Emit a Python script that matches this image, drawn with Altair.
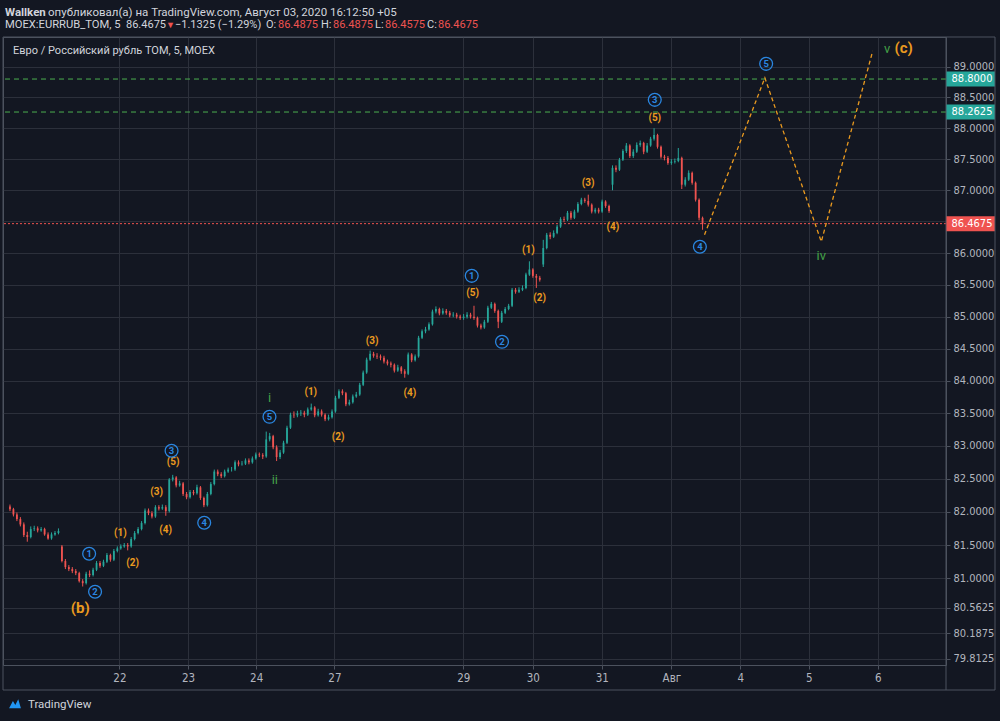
import altair as alt
import pandas as pd
import jinja2

# ---------------- data ----------------
closes = [
    82.04, 81.96, 81.89, 81.81, 81.65, 81.62, 81.74, 81.75, 81.72, 81.74,
    81.66, 81.60, 81.66, 81.68, 81.71, 81.26, 81.17, 81.14, 81.11, 81.08,
    80.96, 80.93, 81.07, 81.05, 81.13, 81.23, 81.19, 81.25, 81.35, 81.28,
    81.41, 81.45, 81.48, 81.50, 81.48, 81.59, 81.68, 81.74, 81.83, 82.02,
    81.98, 81.93, 82.07, 82.05, 82.07, 82.01, 82.49, 82.52, 82.40, 82.43,
    82.27, 82.22, 82.30, 82.28, 82.37, 82.21, 82.10, 82.27, 82.42, 82.61,
    82.57, 82.54, 82.61, 82.64, 82.64, 82.75, 82.72, 82.73, 82.78, 82.75,
    82.81, 82.87, 82.86, 82.84, 83.10, 83.15, 82.98, 82.83, 82.90, 83.05,
    83.28, 83.48, 83.47, 83.50, 83.51, 83.48, 83.56, 83.59, 83.47, 83.53,
    83.48, 83.41, 83.44, 83.53, 83.74, 83.84, 83.81, 83.64, 83.67, 83.76,
    83.79, 83.94, 84.13, 84.33, 84.42, 84.39, 84.38, 84.36, 84.30, 84.27,
    84.25, 84.16, 84.21, 84.15, 84.11, 84.41, 84.32, 84.38, 84.67, 84.77,
    84.80, 84.88, 85.08, 85.12, 85.05, 85.09, 85.06, 85.02, 85.03, 85.00,
    84.98, 85.00, 85.03, 85.00, 84.98, 84.86, 84.83, 84.92, 85.14, 85.20,
    85.09, 84.92, 85.06, 85.12, 85.17, 85.42, 85.39, 85.42, 85.45, 85.66,
    85.74, 85.64, 85.61, 85.58, 86.08, 86.29, 86.26, 86.32, 86.42, 86.54,
    86.53, 86.64, 86.56, 86.66, 86.78, 86.85, 86.83, 86.77, 86.66, 86.69,
    86.66, 86.82, 86.75, 86.67, 87.36, 87.33, 87.49, 87.63, 87.72, 87.55,
    87.62, 87.73, 87.76, 87.62, 87.72, 87.83, 87.89, 87.70, 87.54, 87.52,
    87.44, 87.46, 87.47, 87.52, 87.09, 87.17, 87.28, 87.12, 86.85, 86.56,
    86.4675,
]
highs = [
    82.11, 82.06, 81.99, 81.92, 81.84, 81.70, 81.78, 81.79, 81.78, 81.77,
    81.76, 81.69, 81.69, 81.71, 81.75, 81.50, 81.29, 81.20, 81.17, 81.14,
    81.10, 80.99, 81.10, 81.12, 81.16, 81.26, 81.26, 81.28, 81.38, 81.37,
    81.44, 81.48, 81.51, 81.53, 81.53, 81.62, 81.71, 81.77, 81.86, 82.05,
    82.05, 82.01, 82.10, 82.10, 82.11, 82.10, 82.51, 82.56, 82.54, 82.47,
    82.45, 82.30, 82.33, 82.33, 82.41, 82.39, 82.23, 82.30, 82.45, 82.64,
    82.64, 82.60, 82.64, 82.67, 82.68, 82.78, 82.78, 82.77, 82.81, 82.81,
    82.84, 82.90, 82.90, 82.89, 83.22, 83.20, 83.17, 83.01, 82.94, 83.08,
    83.31, 83.51, 83.53, 83.54, 83.55, 83.54, 83.59, 83.65, 83.61, 83.57,
    83.56, 83.50, 83.48, 83.56, 83.77, 83.87, 83.87, 83.83, 83.71, 83.79,
    83.83, 83.97, 84.16, 84.36, 84.47, 84.45, 84.43, 84.41, 84.39, 84.33,
    84.30, 84.27, 84.25, 84.23, 84.18, 84.44, 84.43, 84.41, 84.70, 84.80,
    84.84, 84.91, 85.11, 85.16, 85.14, 85.13, 85.12, 85.09, 85.07, 85.06,
    85.03, 85.04, 85.07, 85.06, 85.17, 85.00, 84.89, 84.95, 85.17, 85.23,
    85.22, 85.11, 85.09, 85.15, 85.20, 85.45, 85.45, 85.46, 85.49, 85.69,
    85.87, 85.76, 85.67, 85.64, 86.21, 86.32, 86.33, 86.36, 86.45, 86.57,
    86.58, 86.67, 86.67, 86.69, 86.81, 86.88, 86.88, 86.93, 86.79, 86.72,
    86.72, 86.85, 86.84, 86.77, 87.40, 87.40, 87.52, 87.66, 87.76, 87.74,
    87.66, 87.77, 87.80, 87.78, 87.76, 87.86, 88.00, 87.91, 87.72, 87.57,
    87.55, 87.50, 87.51, 87.68, 87.54, 87.21, 87.32, 87.30, 87.14, 86.87,
    86.58,
]
lows = [
    82.01, 81.93, 81.86, 81.78, 81.62, 81.55, 81.60, 81.71, 81.69, 81.70,
    81.64, 81.58, 81.58, 81.64, 81.66, 81.24, 81.14, 81.11, 81.08, 81.05,
    80.94, 80.88, 80.91, 81.02, 81.03, 81.11, 81.16, 81.17, 81.23, 81.25,
    81.26, 81.39, 81.43, 81.46, 81.42, 81.46, 81.57, 81.66, 81.72, 81.81,
    81.95, 81.90, 81.91, 82.02, 82.03, 81.94, 81.99, 82.46, 82.37, 82.38,
    82.24, 82.19, 82.20, 82.25, 82.26, 82.18, 82.07, 82.08, 82.25, 82.40,
    82.54, 82.51, 82.52, 82.59, 82.61, 82.62, 82.69, 82.70, 82.71, 82.72,
    82.73, 82.79, 82.83, 82.80, 82.82, 83.07, 82.95, 82.77, 82.80, 82.88,
    83.03, 83.26, 83.43, 83.44, 83.46, 83.44, 83.46, 83.54, 83.44, 83.45,
    83.45, 83.38, 83.39, 83.42, 83.51, 83.72, 83.78, 83.61, 83.62, 83.65,
    83.74, 83.77, 83.92, 84.11, 84.31, 84.36, 84.34, 84.32, 84.27, 84.24,
    84.21, 84.13, 84.14, 84.11, 84.05, 84.09, 84.29, 84.30, 84.36, 84.65,
    84.74, 84.78, 84.86, 85.05, 85.02, 85.03, 85.03, 84.99, 84.99, 84.97,
    84.95, 84.95, 84.97, 84.97, 84.95, 84.83, 84.80, 84.81, 84.90, 85.12,
    85.06, 84.82, 84.90, 85.04, 85.10, 85.15, 85.36, 85.37, 85.40, 85.43,
    85.64, 85.61, 85.45, 85.55, 85.78, 86.06, 86.22, 86.24, 86.30, 86.40,
    86.49, 86.51, 86.53, 86.54, 86.64, 86.76, 86.80, 86.74, 86.63, 86.63,
    86.63, 86.64, 86.72, 86.64, 87.00, 87.29, 87.31, 87.47, 87.60, 87.52,
    87.52, 87.60, 87.70, 87.58, 87.60, 87.70, 87.80, 87.67, 87.51, 87.48,
    87.41, 87.41, 87.43, 87.45, 87.02, 87.06, 87.15, 87.09, 86.82, 86.52,
    86.37,
]
first_open = 82.08
session_start_bars = [15, 154, 174]
session_start_opens = [81.48, 85.82, 87.09]

day_tick_bars = [31.6, 51.4, 71.1, 93.7, 130.9, 151.0, 170.9, 191.0, 210.9, 230.7, 250.6]
day_tick_labels = ["22", "23", "24", "27", "29", "30", "31", "Авг", "4", "5", "6"]
price_ticks = [79.8125, 80.1875, 80.5625, 81.0, 81.5, 82.0, 82.5, 83.0, 83.5, 84.0,
               84.5, 85.0, 85.5, 86.0, 87.0, 87.5, 88.0, 88.5, 89.0]
hidden_grid_prices = [86.5]   # grid line whose label is hidden by the last-price box

level_prices = [88.80, 88.2625]
last_price = 86.4675

proj_bars = [200.57, 218.0, 234.29, 249.14]
proj_prices = [86.29, 88.82, 86.18, 89.26]

orange_text = ["(1)", "(2)", "(3)", "(4)", "(5)", "(1)", "(2)", "(3)", "(4)", "(5)",
               "(1)", "(2)", "(3)", "(4)", "(5)"]
orange_bar = [31.91, 35.43, 42.37, 44.94, 47.14, 86.86, 94.77, 104.57, 115.51, 133.63,
              149.71, 152.94, 166.94, 174.09, 186.2]
orange_price = [81.684, 81.235, 82.303, 81.730, 82.759, 83.833, 83.141, 84.623, 83.817, 85.374,
                86.052, 85.295, 87.120, 86.417, 88.168]

big_text = ["(b)", "(c)"]
big_bar = [20.29, 258.09]
big_price = [80.565, 89.303]

blue_text = ["1", "2", "3", "4", "5", "1", "2", "3", "4", "5"]
blue_bar = [22.86, 24.57, 46.66, 56.09, 74.94, 133.34, 142.09, 186.2, 199.23, 218.37]
blue_price = [81.369, 80.802, 82.927, 81.835, 83.447, 85.641, 84.607, 88.461, 86.100, 89.049]

green_text = ["i", "ii", "iv", "v"]
green_bar = [74.94, 76.49, 234.29, 253.34]
green_price = [83.739, 82.485, 85.957, 89.295]

# ---------------- style ----------------
BG = "#131722"
GRID = "#2c303b"
FRAME = "#4c525e"
AXT = "#b2b5be"
TXT = "#d1d4dc"
UP = "#26a69a"
DOWN = "#ef5350"
ORANGE = "#ea9a1f"
BLUE = "#2a86e0"
GREEN = "#43a047"
GREEN_LINE = "#4caf50"
UI = "Roboto"
AXF = "Liberation Sans Narrow, DejaVu Sans Condensed, Roboto"
W, H = 943, 628

opens = [first_open] + closes[:-1]
for b, o in zip(session_start_bars, session_start_opens):
    opens[b] = o
candles = pd.DataFrame({
    "bar": list(range(len(closes))),
    "open": opens, "high": highs, "low": lows, "close": closes,
})
candles["dir"] = ["up" if c >= o else "down" for o, c in zip(opens, closes)]

parts = []
for b, l in zip(day_tick_bars[:-1], day_tick_labels[:-1]):
    parts.append(f"datum.value < {b + 1:.2f} ? '{l}' : ")
x_expr = "".join(parts) + f"'{day_tick_labels[-1]}'"

xs = alt.Scale(domain=[-0.57, 268.86], nice=False, zero=False)
ys = alt.Scale(type="log", domain=[79.72, 89.49], nice=False)
ax_x = alt.Axis(values=day_tick_bars, labelExpr=x_expr, title=None, grid=True, gridColor=GRID,
                domain=False, tickColor=FRAME, tickSize=4, labelColor=AXT, labelFont=AXF,
                labelFontSize=11.5, labelPadding=3, labelOverlap=False, labelFlush=False)
ax_y = alt.Axis(orient="right", values=price_ticks, format=".4f", title=None, grid=True,
                gridColor=GRID, domain=False, tickColor=FRAME, tickSize=4, labelColor=AXT,
                labelFont=AXF, labelFontSize=11, labelPadding=3, labelOverlap=False)


def X(f):
    return alt.X(f"{f}:Q", scale=xs, axis=ax_x)


def Y(f):
    return alt.Y(f"{f}:Q", scale=ys, axis=ax_y)


dircolor = alt.Color("dir:N", scale=alt.Scale(domain=["up", "down"], range=[UP, DOWN]), legend=None)
base = alt.Chart(candles)
wicks = base.mark_rule(strokeWidth=1).encode(x=X("bar"), y=Y("low"), y2="high:Q", color=dircolor)
bodies = base.mark_bar(width=1.8).encode(x=X("bar"), y=Y("open"), y2="close:Q", color=dircolor)

extra_grid = alt.Chart(pd.DataFrame({"price": hidden_grid_prices})).mark_rule(
    color=GRID, strokeWidth=1).encode(y=Y("price"))
levels = alt.Chart(pd.DataFrame({"price": level_prices})).mark_rule(
    color=GREEN_LINE, strokeDash=[5, 4], strokeWidth=1).encode(y=Y("price"))
last_line = alt.Chart(pd.DataFrame({"price": [last_price]})).mark_rule(
    color=DOWN, strokeDash=[2, 2], strokeWidth=1).encode(y=Y("price"))

proj = alt.Chart(pd.DataFrame({"bar": proj_bars, "price": proj_prices})).mark_line(
    color=ORANGE, strokeDash=[4, 3], strokeWidth=1.3).encode(x=X("bar"), y=Y("price"))

odf = pd.DataFrame({"bar": orange_bar, "price": orange_price, "t": orange_text})
olab = alt.Chart(odf).mark_text(color=ORANGE, fontSize=10, fontWeight="bold", font=UI,
                                baseline="middle").encode(x=X("bar"), y=Y("price"), text="t:N")
bdf = pd.DataFrame({"bar": big_bar, "price": big_price, "t": big_text})
blab = alt.Chart(bdf).mark_text(color=ORANGE, fontSize=15, fontWeight="bold", font=UI,
                                baseline="middle").encode(x=X("bar"), y=Y("price"), text="t:N")
cdf = pd.DataFrame({"bar": blue_bar, "price": blue_price, "t": blue_text})
circ = alt.Chart(cdf).mark_point(shape="circle", filled=False, size=165, color=BLUE,
                                 strokeWidth=1.3, opacity=1).encode(x=X("bar"), y=Y("price"))
cnum = alt.Chart(cdf).mark_text(color=BLUE, fontSize=9.5, fontWeight="bold", font=UI,
                                baseline="middle").encode(x=X("bar"), y=Y("price"), text="t:N")
gdf = pd.DataFrame({"bar": green_bar, "price": green_price, "t": green_text})
glab = alt.Chart(gdf).mark_text(color=GREEN, fontSize=13, font=UI,
                                baseline="middle").encode(x=X("bar"), y=Y("price"), text="t:N")

box_df = pd.DataFrame({"price": level_prices + [last_price], "kind": ["lvl", "lvl", "last"]})
boxes = alt.Chart(box_df).mark_tick(orient="horizontal", size=49, thickness=15, opacity=1).encode(
    y=Y("price"), x=alt.value(967.5),
    color=alt.Color("kind:N", scale=alt.Scale(domain=["lvl", "last"], range=["#4caf50", "#f05350"]),
                    legend=None))
box_text = alt.Chart(box_df).mark_text(color="white", fontSize=11, font=AXF, align="center",
                                       baseline="middle").encode(
    y=Y("price"), x=alt.value(969), text=alt.Text("price:Q", format=".4f"))


def txt(s, x, y, color=TXT, size=11.5, weight="normal", font=UI):
    return alt.Chart(pd.DataFrame({"t": [s]})).mark_text(
        align="left", baseline="middle", color=color, fontSize=size, fontWeight=weight, font=font
    ).encode(text="t:N", x=alt.value(x), y=alt.value(y))


S2 = 11
header = [
    txt("Wallken", 2, -24, weight="bold"),
    txt("опубликовал(а) на TradingView.com, Август 03, 2020 16:12:50 +05", 45, -24),
    txt("MOEX:EURRUB_TOM, 5", 2, -12, size=11.2),
    txt("86.4675", 123, -12, size=S2),
    txt("▼", 163, -12, color=DOWN, size=9),
    txt("−1.1325 (−1.29%)", 172, -12, size=S2),
    txt("O:", 263, -12, size=S2), txt("86.4875", 275, -12, color=DOWN, size=S2),
    txt("H:", 318, -12, size=S2), txt("86.4875", 330, -12, color=DOWN, size=S2),
    txt("L:", 372, -12, size=S2), txt("86.4575", 382, -12, color=DOWN, size=S2),
    txt("C:", 424, -12, size=S2), txt("86.4675", 435, -12, color=DOWN, size=S2),
    txt("Евро / Российский рубль TOM, 5, MOEX", 10, 14, size=11),
    txt("TradingView", 25, 668, size=11.5),
]

one = pd.DataFrame({"k": [0]})
frame = alt.Chart(one).mark_rect(fill="transparent", stroke=FRAME, strokeWidth=1).encode(
    x=alt.value(0), x2=alt.value(992), y=alt.value(0), y2=alt.value(653))
vsep = alt.Chart(one).mark_rule(color=FRAME, strokeWidth=1).encode(
    x=alt.value(943), y=alt.value(0), y2=alt.value(653))
logo = alt.Chart(one).mark_point(
    shape="M-1,0.7 L-0.35,-0.5 L0.05,0.15 L0.55,-0.8 L1,0.7 Z", filled=True, size=140,
    color="#2196f3", opacity=1).encode(x=alt.value(12), y=alt.value(667))

chart = alt.layer(
    extra_grid, levels, last_line, wicks, bodies, proj, olab, blab, circ, cnum, glab,
    boxes, box_text, frame, vsep, logo, *header
).properties(
    width=W, height=H,
    padding={"left": 3, "top": 37, "right": 54, "bottom": 56},
    autosize=alt.AutoSizeParams(type="none"),
    background=BG,
).configure_view(stroke=FRAME, strokeWidth=1, fill=BG)

TEMPLATE = jinja2.Template("""<!DOCTYPE html>
<html>
<head>
<meta charset="utf-8">
<style>
html, body { margin: 0; padding: 0; background: #131722; overflow: hidden; }
#{{ output_div }}.vega-embed { width: 100%; display: flex; }
</style>
<script type="text/javascript" src="{{ base_url }}/vega@{{ vega_version }}"></script>
<script type="text/javascript" src="{{ base_url }}/vega-lite@{{ vegalite_version }}"></script>
<script type="text/javascript" src="{{ base_url }}/vega-embed@{{ vegaembed_version }}"></script>
</head>
<body>
<div id="{{ output_div }}"></div>
<script type="text/javascript">
  (function(vegaEmbed) {
    var spec = {{ spec }};
    var embedOpt = {{ embed_options }};
    function showError(el, error){
      el.innerHTML = ('<div style="color:red;"><p>JavaScript Error: ' + error.message + '</p></div>');
      throw error;
    }
    const el = document.getElementById('{{ output_div }}');
    vegaEmbed("#{{ output_div }}", spec, embedOpt).catch(error => showError(el, error));
  })(vegaEmbed);
</script>
</body>
</html>""")

chart.save("out.html", embed_options={"renderer": "svg", "actions": False}, template=TEMPLATE)
